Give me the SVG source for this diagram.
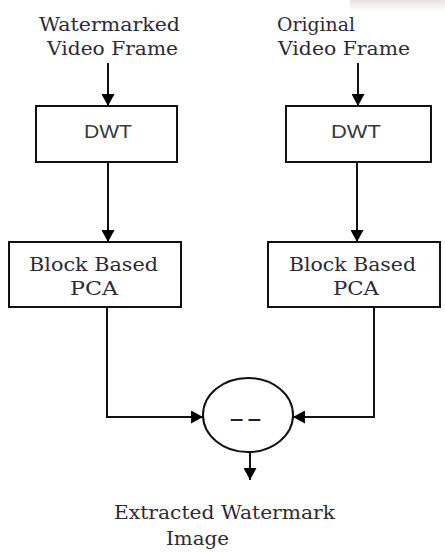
<svg xmlns="http://www.w3.org/2000/svg" width="445" height="553" viewBox="0 0 445 553">
<defs>
<marker id="ah" markerUnits="userSpaceOnUse" markerWidth="13" markerHeight="13" refX="12" refY="6.5" orient="auto">
<path d="M0,0 L12,6.5 L0,13 z" fill="#000"/>
</marker>
<linearGradient id="sh" x1="0" y1="0" x2="0" y2="1">
<stop offset="0" stop-color="#e6e0dc"/>
<stop offset="1" stop-color="#ffffff" stop-opacity="0"/>
</linearGradient>
<style>
.box{fill:#fff;stroke:#111;stroke-width:2}
.lbl{font-family:"DejaVu Serif","Liberation Serif",serif;font-size:18px;fill:#2e2a36}
.sans{font-family:"Liberation Sans",Arial,sans-serif;font-size:18px;fill:#3a3a3a}
.con{fill:none;stroke:#111;stroke-width:2;marker-end:url(#ah)}
</style>
</defs>
<rect width="445" height="553" fill="#fff"/>
<rect x="350" y="0" width="95" height="16" fill="url(#sh)"/>
<g id="in-watermarked">
<text class="lbl" x="39" y="31" textLength="141" lengthAdjust="spacingAndGlyphs">Watermarked</text>
<text class="lbl" x="47" y="55" textLength="131" lengthAdjust="spacingAndGlyphs">Video Frame</text>
</g>
<g id="in-original">
<text class="lbl" x="277" y="31" textLength="78" lengthAdjust="spacingAndGlyphs">Original</text>
<text class="lbl" x="278" y="55" textLength="132" lengthAdjust="spacingAndGlyphs">Video Frame</text>
</g>
<g id="dwt-left">
<rect class="box" x="36" y="106" width="141" height="56"/>
<text class="sans" x="84" y="138" textLength="48" lengthAdjust="spacingAndGlyphs">DWT</text>
</g>
<g id="dwt-right">
<rect class="box" x="286" y="106" width="145" height="56"/>
<text class="sans" x="331" y="138" textLength="50" lengthAdjust="spacingAndGlyphs">DWT</text>
</g>
<g id="pca-left">
<rect class="box" x="9" y="242" width="172" height="65"/>
<text class="lbl" x="29" y="271" textLength="129" lengthAdjust="spacingAndGlyphs">Block Based</text>
<text class="lbl" x="70" y="295" textLength="48" lengthAdjust="spacingAndGlyphs">PCA</text>
</g>
<g id="pca-right">
<rect class="box" x="268" y="242" width="172" height="65"/>
<text class="lbl" x="289" y="271" textLength="127" lengthAdjust="spacingAndGlyphs">Block Based</text>
<text class="lbl" x="333" y="295" textLength="46" lengthAdjust="spacingAndGlyphs">PCA</text>
</g>
<g id="subtract">
<ellipse cx="248" cy="415" rx="45" ry="37" fill="#fff" stroke="#111" stroke-width="2"/>
<text x="230" y="424" textLength="31" lengthAdjust="spacingAndGlyphs" style="font-family:'DejaVu Sans',sans-serif;font-weight:bold;font-size:15px;fill:#222">— —</text>
</g>
<g id="output">
<text class="lbl" x="114" y="519" textLength="221" lengthAdjust="spacingAndGlyphs">Extracted Watermark</text>
<text class="lbl" x="166" y="545" textLength="63" lengthAdjust="spacingAndGlyphs">Image</text>
</g>
<g id="connectors">
<path class="con" d="M108,63 V106"/>
<path class="con" d="M358,63 V106"/>
<path class="con" d="M108,162 V242"/>
<path class="con" d="M357,162 V242"/>
<path class="con" d="M107,307 V417 H203"/>
<path class="con" d="M374,307 V417 H293"/>
<path class="con" d="M250,452 V480"/>
</g>
</svg>
